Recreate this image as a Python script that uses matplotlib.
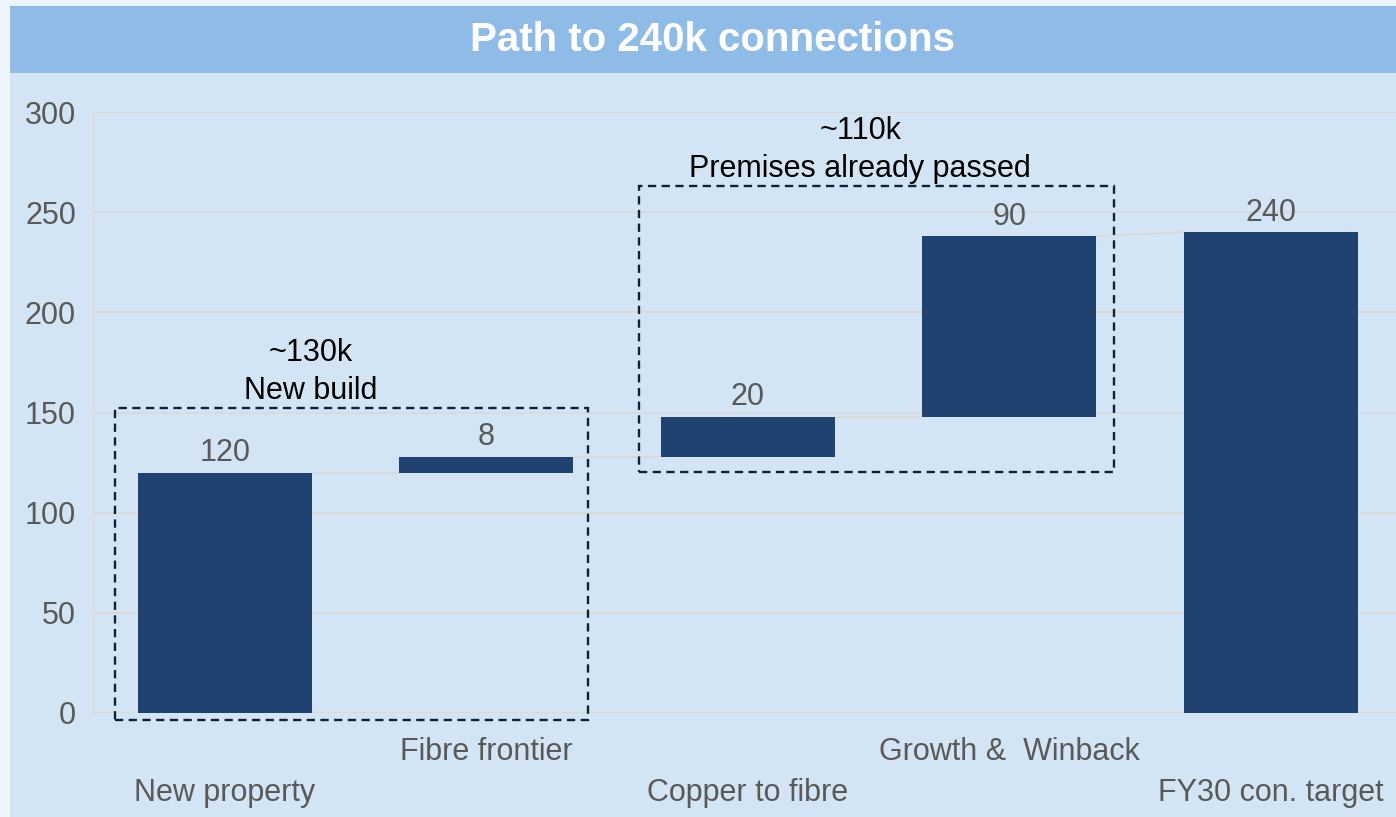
import matplotlib
matplotlib.use("Agg")
import matplotlib.pyplot as plt
from matplotlib.patches import Rectangle

# ---- data ----
categories = ["New property", "Fibre frontier", "Copper to fibre", "Growth &  Winback", "FY30 con. target"]
values = [120, 8, 20, 90, 240]
is_total = [False, False, False, False, True]
yticks = [0, 50, 100, 150, 200, 250, 300]
title = "Path to 240k connections"
group_labels = ["~130k\nNew build", "~110k\nPremises already passed"]
groups = [(0, 1), (2, 3)]

# ---- styles ----
BAR = "#1f4271"
GRID = "#d9d9d9"
TXT = "#595959"
PANEL = "#d3e4f5"
TITLEBG = "#8fbce6"
OUTER = "#edf4fb"
BOX = "#0e2234"
FS = 22
plt.rcParams["font.family"] = ["Liberation Sans", "DejaVu Sans"]

W, H = 1396, 817
fig = plt.figure(figsize=(W / 100, H / 100), dpi=100, facecolor=OUTER)
fig.patches.append(Rectangle((10 / W, 0), 1 - 10 / W, 1 - 73 / H, transform=fig.transFigure,
                             facecolor=PANEL, edgecolor="none", zorder=-10))
fig.patches.append(Rectangle((10 / W, 1 - 73 / H), 1 - 10 / W, 67 / H, transform=fig.transFigure,
                             facecolor=TITLEBG, edgecolor="none", zorder=-10))
fig.text(713 / W, 1 - 40 / H, title, color="white", fontsize=29, fontweight="bold",
         ha="center", va="center")

ax = fig.add_axes([94 / W, 1 - 713 / H, 1307.5 / W, 601 / H])
ax.set_facecolor("none")
ax.set_xlim(-0.5, len(categories) - 0.5)
ax.set_ylim(0, 300)

# waterfall geometry
bottoms, tops = [], []
run = 0
for v, t in zip(values, is_total):
    if t:
        bottoms.append(0)
        tops.append(v)
    else:
        bottoms.append(run)
        run += v
        tops.append(run)

bw = 0.665
x = list(range(len(categories)))
ax.bar(x, [t - b for t, b in zip(tops, bottoms)], bottom=bottoms, width=bw, color=BAR, zorder=3)

# connectors
for i in range(len(categories) - 1):
    y0 = tops[i]
    y1 = tops[i + 1] if is_total[i + 1] else bottoms[i + 1]
    ax.plot([i + bw / 2, i + 1 - bw / 2], [y0, y1], color=GRID, lw=1.3, zorder=2)

# value labels
for i, v in enumerate(values):
    ax.annotate(f"{v}", (i, tops[i]), xytext=(0, 3), textcoords="offset points",
                ha="center", va="bottom", fontsize=FS, color=TXT, zorder=4)

# axes styling
ax.set_yticks(yticks)
ax.grid(axis="y", color=GRID, lw=1.3, zorder=0)
ax.set_axisbelow(True)
for s in ["top", "right", "bottom"]:
    ax.spines[s].set_visible(False)
ax.spines["left"].set_color(GRID)
ax.spines["left"].set_linewidth(1.3)
ax.tick_params(axis="y", length=0, pad=13, labelsize=FS, labelcolor=TXT)

# staggered x labels
ax.set_xticks(x[0::2], labels=categories[0::2])
ax.set_xticks(x[1::2], labels=categories[1::2], minor=True)
ax.tick_params(axis="x", which="major", length=0, pad=46.5, labelsize=FS, labelcolor=TXT)
ax.tick_params(axis="x", which="minor", length=0, pad=17.5, labelsize=FS, labelcolor=TXT)

# dashed group boxes with labels
pads = [(0.42, 0.39, 3.5, 24.3), (0.417, 0.40, 7.7, 25.1)]
label_x_off = [-0.67, -0.57]
for (a, b), lab, (pl, pr, pb, pt), lx in zip(groups, group_labels, pads, label_x_off):
    y_lo = min(bottoms[a:b + 1]) - pb
    y_hi = max(tops[a:b + 1]) + pt
    ax.add_patch(Rectangle((a - pl, y_lo), (b + pr) - (a - pl), y_hi - y_lo, fill=False,
                           ec=BOX, lw=1.7, ls=(0, (3.5, 2.3)), clip_on=False, zorder=5))
    ax.text(b + lx, y_hi + 1, lab, ha="center", va="bottom", fontsize=FS,
            color="black", linespacing=1.36, zorder=5)

fig.savefig("out.png", dpi=100, facecolor=OUTER)
